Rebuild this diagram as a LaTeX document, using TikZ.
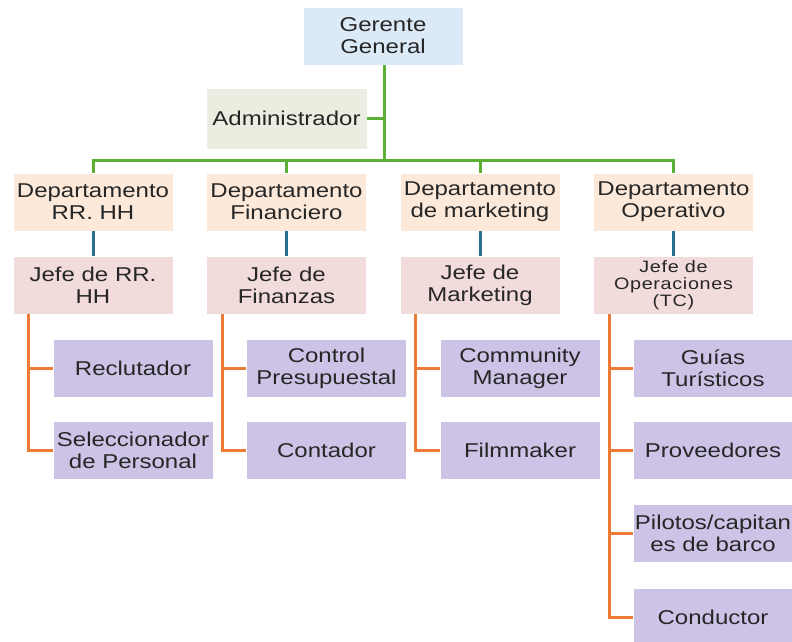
\documentclass[tikz,border=0pt]{standalone}
\usepackage{fontspec}
\setmainfont{Liberation Sans}[FakeStretch=1.2]
\definecolor{cgg}{HTML}{DCEAF7}
\definecolor{cadm}{HTML}{EBEDE0}
\definecolor{cdep}{HTML}{FCE9DA}
\definecolor{cjefe}{HTML}{F2DCDB}
\definecolor{csub}{HTML}{CCC3E6}
\definecolor{cgreen}{HTML}{5BB033}
\definecolor{cblue}{HTML}{2A6E90}
\definecolor{corange}{HTML}{EE7B35}
\definecolor{ctext}{HTML}{262626}
\begin{document}
\begin{tikzpicture}[x=1pt,y=-1pt,
  box/.style={draw=white,line width=0.6pt,minimum width=160pt,minimum height=58pt,inner sep=1pt,
    align=center,text=ctext,font=\fontsize{20}{22}\selectfont},
  ggbox/.style={box,fill=cgg},
  admbox/.style={box,fill=cadm,minimum width=161pt,minimum height=61pt},
  depbox/.style={box,fill=cdep},
  jefebox/.style={box,fill=cjefe},
  subbox/.style={box,fill=csub},
  gline/.style={draw=cgreen,line width=3pt},
  bline/.style={draw=cblue,line width=3pt},
  oline/.style={draw=corange,line width=3pt}]
\useasboundingbox (0,0) rectangle (792,641);
\fill[white] (0,0) rectangle (792,641);
% top
\node[ggbox] (gg) at (383,36) {Gerente\\General};
\node[admbox] (adm) at (286.5,118.5) {Administrador};
% departments
\node[depbox] (d1) at (93,202) {Departamento\\RR. HH};
\node[depbox] (d2) at (286.5,202) {Departamento\\Financiero};
\node[depbox] (d3) at (480,202) {Departamento\\de marketing};
\node[depbox] (d4) at (673.5,202) {Departamento\\Operativo};
% jefes
\node[jefebox] (j1) at (93,285) {Jefe de RR.\\HH};
\node[jefebox] (j2) at (286.5,285) {Jefe de\\Finanzas};
\node[jefebox] (j3) at (480,285) {Jefe de\\Marketing};
\node[jefebox,font=\fontsize{16.5}{17}\selectfont\addfontfeature{LetterSpace=4}] (j4) at (673.5,285) {Jefe de\\Operaciones\\(TC)};
% subordinates
\node[subbox] (s1a) at (133,368) {Reclutador};
\node[subbox] (s1b) at (133,450.5) {Seleccionador\\de Personal};
\node[subbox] (s2a) at (326.5,368) {Control\\Presupuestal};
\node[subbox] (s2b) at (326.5,450.5) {Contador};
\node[subbox] (s3a) at (520,368) {Community\\Manager};
\node[subbox] (s3b) at (520,450.5) {Filmmaker};
\node[subbox] (s4a) at (713,368) {Guías\\Turísticos};
\node[subbox] (s4b) at (713,450.5) {Proveedores};
\node[subbox] (s4c) at (713,533.5) {Pilotos/capitan\\es de barco};
\node[subbox] (s4d) at (713,617) {Conductor};
% green connectors
\coordinate (bus) at (384,160);
\draw[gline] (gg.south -| bus) -- (bus);
\draw[gline] (adm.east) -- (adm.east -| bus);
\draw[gline] (d1.north) -- (d1.north |- bus) -- (d4.north |- bus) -- (d4.north);
\draw[gline] (d2.north) -- (d2.north |- bus);
\draw[gline] (d3.north) -- (d3.north |- bus);
% blue connectors
\draw[bline] (d1) -- (j1);
\draw[bline] (d2) -- (j2);
\draw[bline] (d3) -- (j3);
\draw[bline] (d4) -- (j4);
% orange connectors
\coordinate (o1) at ([xshift=16pt]j1.south west);
\coordinate (o2) at ([xshift=16pt]j2.south west);
\coordinate (o3) at ([xshift=16pt]j3.south west);
\coordinate (o4) at ([xshift=16pt]j4.south west);
\draw[oline] (o1) |- (s1a.west);
\draw[oline] (o1) |- (s1b.west);
\draw[oline] (o2) |- (s2a.west);
\draw[oline] (o2) |- (s2b.west);
\draw[oline] (o3) |- (s3a.west);
\draw[oline] (o3) |- (s3b.west);
\draw[oline] (o4) |- (s4a.west);
\draw[oline] (o4) |- (s4b.west);
\draw[oline] (o4) |- (s4c.west);
\draw[oline] (o4) |- (s4d.west);
\end{tikzpicture}
\end{document}
